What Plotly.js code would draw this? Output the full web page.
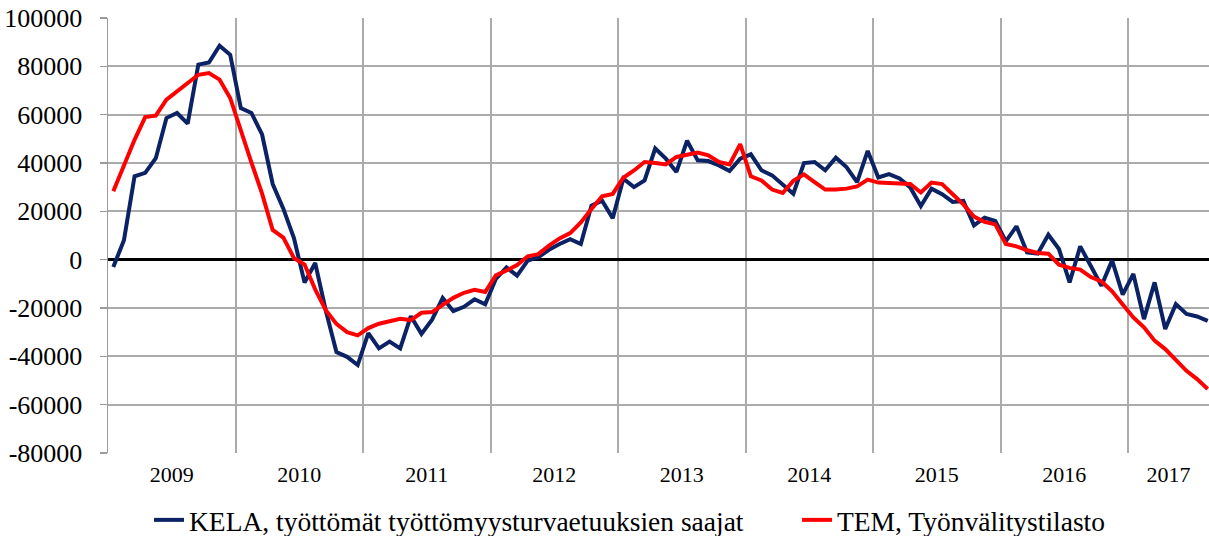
<!DOCTYPE html>
<html>
<head>
<meta charset="utf-8">
<script src="https://cdn.plot.ly/plotly-3.0.1.min.js"></script>
<style>
  html, body { margin: 0; padding: 0; background: #fff; }
  #chart { width: 1209px; height: 536px; }
</style>
</head>
<body>
<div id="chart"></div>
<script>
// Year labels shown on the x axis
const yearLabels = ['2009', '2010', '2011', '2012', '2013', '2014', '2015', '2016', '2017'];

// Monthly categories: Jan 2009 ... Aug 2017
const months = [];
for (let y = 2009; y <= 2017; y++) {
  for (let m = 1; m <= 12; m++) {
    if (y === 2017 && m > 8) break;
    months.push(y + '-' + String(m).padStart(2, '0'));
  }
}

// KELA, työttömät työttömyysturvaetuuksien saajat (change, persons)
const kela = [
  -3000, 8000, 34500, 35900, 42000, 58600, 60700, 56300, 80700, 81600, 88500, 84800,
  62700, 60700, 51800, 31300, 21100, 8900, -9500, -1400, -21100, -38200, -40200, -43600,
  -30400, -36700, -33900, -36700, -23400, -30700, -24800, -15800, -21300, -19500, -16400, -18500,
  -8000, -3200, -6600, -400, 1000, 4100, 6500, 8500, 6500, 22300, 24400, 17100,
  33500, 30000, 32800, 46000, 41800, 36300, 49200, 41100, 40800, 39000, 36700, 41800,
  43600, 37000, 34900, 31200, 27300, 40000, 40400, 37000, 42200, 38300, 32100, 45000,
  34000, 35400, 33600, 29900, 22200, 29400, 27100, 23900, 24300, 14200, 17400, 16000,
  7600, 13800, 3000, 2500, 10300, 4400, -9400, 5500, -3000, -10800, -300, -14500,
  -5900, -24600, -9400, -28700, -18400, -22500, -23500, -25300
];

// TEM, Työnvälitystilasto (change, persons)
const tem = [
  28300, 39300, 49600, 59000, 59600, 66200, 69600, 73100, 76500, 77200, 74500, 66900,
  53200, 40200, 27300, 12300, 9100, 700, -2000, -12300, -20900, -26600, -30000, -31300,
  -28300, -26500, -25500, -24500, -25000, -22000, -21700, -18500, -15800, -13700, -12500, -13400,
  -6500, -4500, -2200, 1400, 2300, 5800, 8800, 11000, 15400, 21000, 26200, 27200,
  33900, 36900, 40400, 40000, 39400, 42500, 43200, 44300, 43200, 40400, 39400, 47800,
  34500, 32800, 29000, 27600, 32600, 35300, 32100, 29000, 29000, 29400, 30300, 33100,
  31900, 31500, 31500, 31300, 27800, 31900, 31300, 27100, 22900, 17800, 15600, 14600,
  6500, 5500, 3900, 2800, 2500, -2100, -3400, -4100, -7200, -9000, -13100, -18600,
  -23900, -28000, -33500, -37000, -41400, -46000, -49400, -53500
];

const idx = months.map((_, i) => i);
const lastX = 103.12;
const yMin = -80000, yMax = 100000;

// year boundaries (grid) and label positions (centre of the visible part of each year)
const boundaries = [];
const labelPos = [];
yearLabels.forEach((yr, j) => {
  const start = j * 12 - 0.5;
  const end = Math.min(start + 12, lastX);
  labelPos.push((start + end) / 2);
  if (j > 0) boundaries.push(start);
});

const serif = 'Liberation Serif, Times New Roman, serif';

const traces = [
  {
    x: idx, y: kela, text: months, type: 'scatter', mode: 'lines',
    name: 'KELA, työttömät työttömyysturvaetuuksien saajat',
    line: { color: '#0b2264', width: 4 },
    legend: 'legend'
  },
  {
    x: idx, y: tem, text: months, type: 'scatter', mode: 'lines',
    name: 'TEM, Työnvälitystilasto',
    line: { color: '#ff0000', width: 4 },
    legend: 'legend2'
  }
];

const layout = {
  width: 1209, height: 536,
  margin: { l: 108, r: 0, t: 18, b: 83, autoexpand: false },
  paper_bgcolor: '#fff', plot_bgcolor: '#fff',
  font: { family: serif, color: '#000' },
  showlegend: true,
  xaxis: {
    type: 'linear',
    range: [-0.5, lastX],
    tickmode: 'array', tickvals: labelPos, ticktext: yearLabels,
    ticks: '', showgrid: false, zeroline: false, showline: false,
    tickfont: { family: serif, size: 22, color: '#000' },
    ticklabelstandoff: 6,
    minor: { tickmode: 'array', tickvals: boundaries, showgrid: true, gridcolor: '#ababab', gridwidth: 2, ticks: '' }
  },
  // category axis drawn at the zero line, with small tick marks at the year boundaries
  xaxis2: {
    type: 'linear', overlaying: 'x', anchor: 'free',
    position: (0 - yMin) / (yMax - yMin),
    range: [-0.5, lastX],
    tickmode: 'array', tickvals: [-0.5].concat(boundaries),
    ticks: 'outside', ticklen: 5, tickwidth: 2, tickcolor: '#000',
    showticklabels: false, showgrid: false, zeroline: false, showline: false
  },
  yaxis: {
    range: [yMin, yMax],
    tickmode: 'array',
    tickvals: [-80000, -60000, -40000, -20000, 0, 20000, 40000, 60000, 80000, 100000],
    ticktext: ['-80000', '-60000', '-40000', '-20000', '0', '20000', '40000', '60000', '80000', '100000'],
    showgrid: true, gridcolor: '#ababab', gridwidth: 2,
    zeroline: true, zerolinecolor: '#000', zerolinewidth: 2.5,
    showline: true, linecolor: '#9a9a9a', linewidth: 1.5,
    ticks: 'outside', ticklen: 7, tickcolor: '#9a9a9a', tickwidth: 1.5,
    tickfont: { family: serif, size: 26, color: '#000' },
    ticklabelstandoff: 12
  },
  legend: {
    orientation: 'h', x: (149 - 108) / 1101, xanchor: 'left',
    y: -0.154, yanchor: 'middle',
    font: { family: serif, size: 27.5, color: '#000' },
    bgcolor: 'rgba(0,0,0,0)', borderwidth: 0
  },
  legend2: {
    orientation: 'h', x: (797 - 108) / 1101, xanchor: 'left',
    y: -0.154, yanchor: 'middle',
    font: { family: serif, size: 27.5, color: '#000' },
    bgcolor: 'rgba(0,0,0,0)', borderwidth: 0
  }
};

Plotly.newPlot('chart', traces, layout, { staticPlot: true, displayModeBar: false });
</script>
</body>
</html>
